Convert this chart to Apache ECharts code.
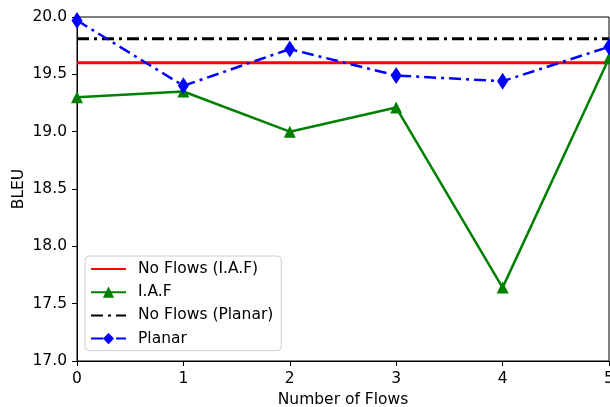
<!DOCTYPE html>
<html>
<head>
    <meta charset="utf-8">
    <title>BLEU vs flows</title>
    <style>body{margin:0;background:#fff;}</style>
</head>
<body>
    <div id="main" style="width: 610px; height: 407px;"></div>
    <script src="https://cdn.jsdelivr.net/npm/echarts@6/dist/echarts.min.js"></script>
    <script type="text/javascript">
        var flows = [0, 1, 2, 3, 4, 5];
        var noFlowsIAF = [19.6, 19.6, 19.6, 19.6, 19.6, 19.6];
        var iaf = [19.30, 19.35, 19.00, 19.21, 17.64, 19.64];
        var noFlowsPlanar = [19.81, 19.81, 19.81, 19.81, 19.81, 19.81];
        var planar = [19.97, 19.40, 19.72, 19.49, 19.44, 19.74];
        var yTicks = [17.0, 17.5, 18.0, 18.5, 19.0, 19.5, 20.0];

        function pairs(ys) {
            return flows.map(function (x, i) { return [x, ys[i]]; });
        }

        var font = 'DejaVu Sans';
        var fs = 15.5;
        var myChart = echarts.init(document.getElementById('main'));
        var dashDot = [12, 5, 3, 5];

        var option = {
            animation: false,
            grid: {
                left: 77, right: 1, top: 17, bottom: 46,
                outerBoundsMode: 'none', containLabel: false,
                show: true, borderColor: '#000', borderWidth: 1
            },
            legend: {
                orient: 'vertical',
                left: 85, top: 256,
                padding: [5, 8, 4, 5],
                itemWidth: 35, itemHeight: 14, itemGap: 7.2,
                borderColor: '#ccc', borderWidth: 1, borderRadius: 4,
                backgroundColor: 'rgba(255,255,255,0.8)',
                textStyle: { fontFamily: font, fontSize: fs, color: '#000', padding: [0, 0, 0, 7] },
                data: [
                    { name: 'No Flows (I.A.F)', itemStyle: { opacity: 0 } },
                    'I.A.F',
                    { name: 'No Flows (Planar)', itemStyle: { opacity: 0 } },
                    'Planar'
                ]
            },
            xAxis: {
                type: 'value', min: 0, max: 5, interval: 1,
                name: 'Number of Flows', nameLocation: 'middle', nameGap: 31,
                nameMoveOverlap: false,
                nameTextStyle: { fontFamily: font, fontSize: fs, color: '#000' },
                axisLine: { lineStyle: { color: '#000' } },
                axisTick: { show: true, length: 5, lineStyle: { color: '#000' } },
                axisLabel: { fontFamily: font, fontSize: fs, color: '#000', margin: 10 },
                splitLine: { show: false }
            },
            yAxis: {
                type: 'value', min: 17, max: 20, interval: 0.5,
                name: 'BLEU', nameLocation: 'middle', nameGap: 50,
                nameMoveOverlap: false,
                nameTextStyle: { fontFamily: font, fontSize: fs, color: '#000' },
                axisLine: { show: true, lineStyle: { color: '#000' } },
                axisTick: { show: true, length: 5, lineStyle: { color: '#000' } },
                axisLabel: {
                    fontFamily: font, fontSize: fs, color: '#000', margin: 10,
                    formatter: function (v) { return yTicks.indexOf(v) >= 0 ? v.toFixed(1) : ''; }
                },
                splitLine: { show: false }
            },
            series: [
                {
                    name: 'No Flows (I.A.F)', type: 'line', data: pairs(noFlowsIAF),
                    symbol: 'none', lineStyle: { color: '#ff0000', width: 3 },
                    itemStyle: { color: '#ff0000' }
                },
                {
                    name: 'I.A.F', type: 'line', data: pairs(iaf),
                    symbol: 'triangle', symbolSize: 12,
                    lineStyle: { color: '#008000', width: 2.5 },
                    itemStyle: { color: '#008000' }
                },
                {
                    name: 'No Flows (Planar)', type: 'line', data: pairs(noFlowsPlanar),
                    symbol: 'none', lineStyle: { color: '#000', width: 3, type: dashDot },
                    itemStyle: { color: '#000' }
                },
                {
                    name: 'Planar', type: 'line', data: pairs(planar),
                    symbol: 'diamond', symbolSize: [11, 17],
                    lineStyle: { color: '#0000ff', width: 2.5, type: dashDot },
                    itemStyle: { color: '#0000ff' }
                }
            ]
        };
        myChart.setOption(option);
    </script>
</body>
</html>
